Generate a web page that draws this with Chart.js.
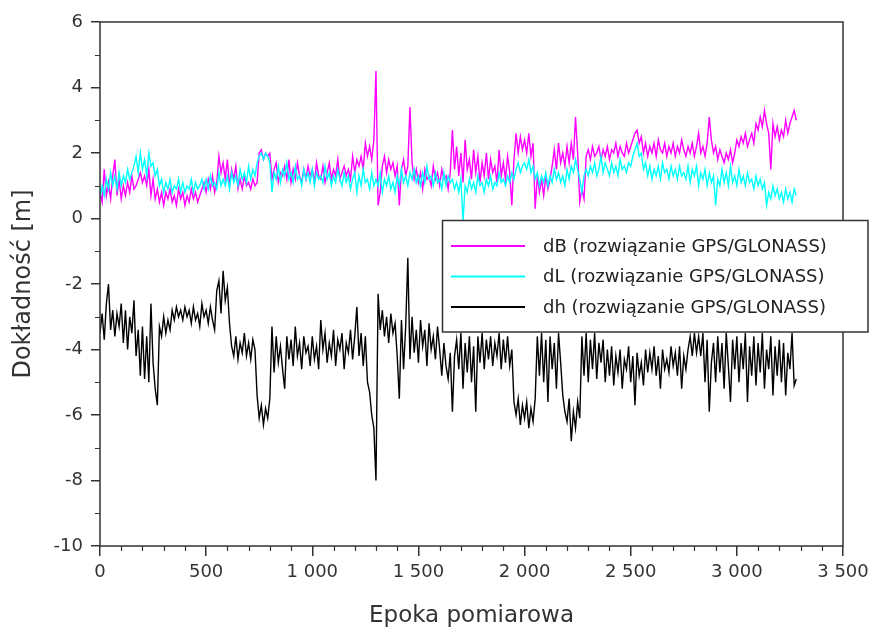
<!DOCTYPE html>
<html><head><meta charset="utf-8">
<script src="https://cdn.jsdelivr.net/npm/chart.js@4.4.1/dist/chart.umd.min.js"></script>
<style>html,body{margin:0;padding:0;background:#fff;}#wrap{width:870px;height:632px;}</style>
</head><body><div id="wrap"><canvas id="c" width="870" height="632"></canvas></div>
<script>
const epochStep = 10;
const seriesNames = ['dB (rozwiązanie GPS/GLONASS)', 'dL (rozwiązanie GPS/GLONASS)', 'dh (rozwiązanie GPS/GLONASS)'];
const seriesColors = ['#ff00ff', '#00ffff', '#000000'];
const xTickValues = [0, 500, 1000, 1500, 2000, 2500, 3000, 3500];
const yTickValues = [-10, -8, -6, -4, -2, 0, 2, 4, 6];
const dB = [0.8,0.5,1.5,0.7,1.1,0.6,1.3,1.8,0.7,1.2,
0.6,1.0,0.7,1.1,0.8,1.3,0.9,1.0,1.2,1.4,
1.1,1.3,1.0,1.5,0.7,1.2,0.6,0.9,0.5,0.8,
0.4,0.8,0.6,0.9,0.5,0.7,0.4,0.9,0.6,0.8,
0.4,0.7,0.5,0.9,0.6,0.8,0.5,0.7,0.9,1.1,
0.8,1.2,0.9,1.3,0.8,1.1,1.9,1.4,1.7,1.2,
1.8,1.0,1.5,1.2,1.6,0.9,1.2,0.9,1.3,1.0,
1.1,0.9,1.2,1.0,1.1,2.0,2.1,1.8,2.0,1.9,
2.0,1.2,1.5,1.7,1.1,1.4,1.3,1.6,1.2,1.8,
1.1,1.5,1.2,1.7,1.3,1.1,1.5,1.2,1.6,1.3,
1.5,1.1,1.7,1.3,1.2,1.6,1.1,1.4,1.7,1.2,
1.5,1.3,1.8,1.2,1.4,1.6,1.3,1.5,1.2,1.9,
1.4,1.8,1.6,1.9,1.5,2.3,1.9,2.2,1.8,2.4,
4.5,0.4,0.8,1.6,1.9,1.4,1.8,1.5,1.7,1.3,
1.6,0.4,1.5,1.8,1.3,1.6,3.4,1.7,1.2,1.5,
1.1,1.4,0.9,1.5,1.2,1.3,1.0,1.6,1.2,1.4,
1.0,1.5,1.2,1.3,0.9,1.4,2.7,1.5,2.2,1.3,
2.0,1.1,2.4,1.5,1.8,1.2,2.1,1.4,1.9,1.1,
1.7,1.3,2.0,1.2,1.8,1.4,1.6,1.1,2.1,1.3,
1.7,1.2,1.9,1.4,0.4,1.8,2.6,2.0,2.5,2.1,
2.4,2.0,2.6,1.9,2.3,0.3,1.3,0.8,1.2,0.7,
1.3,0.9,1.2,1.6,2.1,1.5,2.3,1.7,2.0,1.6,
2.2,1.7,2.3,1.8,3.1,2.0,0.5,0.9,0.6,1.9,
2.1,1.8,2.2,1.9,2.0,2.2,1.8,2.1,1.9,2.2,
1.8,2.1,2.0,2.3,1.9,2.2,2.0,1.9,2.3,2.0,
2.2,2.4,2.6,2.7,2.3,2.5,2.0,2.3,1.9,2.2,
2.0,2.3,1.9,2.4,2.1,2.0,2.3,1.9,2.2,2.0,
2.3,1.9,2.2,2.0,2.4,2.1,1.9,2.2,2.0,2.3,
1.9,2.2,2.6,2.0,2.2,1.9,2.3,3.1,2.4,2.0,
2.2,1.8,2.1,1.9,1.7,2.0,1.8,2.1,1.7,2.0,
2.4,2.2,2.5,2.3,2.6,2.2,2.4,2.6,2.3,2.9,
2.7,3.1,2.8,3.3,2.9,2.6,1.5,2.9,2.5,2.8,
2.4,2.7,2.5,3.0,2.6,2.9,3.1,3.3,3.0];
const dL = [0.6,1.0,0.7,1.2,0.9,1.4,1.0,1.3,0.9,1.4,
1.0,1.3,1.1,1.5,1.2,1.4,1.6,1.9,1.4,2.0,
1.5,1.8,1.3,2.0,1.6,1.7,1.3,1.5,1.0,1.2,
0.8,1.1,0.9,1.2,0.8,1.0,0.9,1.2,0.8,1.1,
0.8,1.0,0.9,1.2,0.8,1.1,0.9,1.0,1.2,0.9,
1.2,0.9,1.3,1.0,1.1,0.9,1.4,1.0,1.2,1.0,
1.3,0.9,1.4,1.1,1.3,1.0,1.5,1.2,1.4,1.1,
1.6,1.2,1.5,1.3,1.7,1.9,2.0,1.8,2.0,1.9,
1.7,0.8,1.4,1.2,1.6,1.1,1.5,1.3,1.7,1.2,
1.4,1.1,1.6,1.2,1.3,1.0,1.5,1.2,1.4,1.1,
1.5,1.0,1.4,1.2,1.3,1.1,1.6,1.2,1.4,1.0,
1.3,1.1,1.5,1.2,1.0,1.4,1.1,1.3,0.9,1.2,
1.4,0.8,1.3,1.0,1.5,1.1,1.2,0.9,1.4,1.0,
1.2,1.0,1.4,0.8,1.2,1.0,1.3,0.9,1.1,0.8,
1.3,1.0,1.5,1.1,1.3,1.0,1.4,1.2,1.5,1.1,
1.3,1.0,1.4,1.1,1.6,1.2,1.3,1.0,1.4,1.1,
1.2,0.9,1.4,1.0,1.3,1.1,1.2,0.9,1.1,0.8,
1.2,-0.1,1.0,0.8,1.2,0.9,1.1,0.8,1.3,1.0,
1.1,0.8,1.2,1.0,1.3,0.9,1.1,1.0,1.4,1.1,
1.2,1.0,1.3,1.1,1.4,1.2,1.5,1.7,1.4,1.6,
1.7,1.5,1.8,1.4,1.6,1.2,1.4,1.0,1.3,1.1,
1.4,1.0,1.3,1.1,1.5,1.2,1.4,1.1,1.3,1.0,
1.5,1.2,1.6,1.4,1.8,1.5,1.2,0.8,1.3,1.5,
1.3,1.6,1.4,1.7,1.3,1.5,1.9,1.4,1.7,1.5,
1.3,1.7,1.4,1.6,1.3,1.8,1.5,1.6,1.4,1.7,
1.6,1.9,2.1,2.3,1.9,2.0,1.5,1.7,1.3,1.6,
1.2,1.5,1.3,1.6,1.2,1.7,1.4,1.5,1.2,1.6,
1.3,1.5,1.2,1.6,1.3,1.4,1.2,1.6,1.1,1.5,
1.3,1.6,1.0,1.4,1.2,1.5,1.0,1.4,1.1,1.3,
0.4,1.2,1.0,1.5,1.1,1.4,1.0,1.6,1.1,1.3,
1.0,1.5,1.1,1.3,1.0,1.4,1.1,1.2,0.9,1.3,
1.0,1.2,0.9,1.1,0.4,0.8,0.6,1.0,0.7,0.9,
0.6,0.8,0.5,0.9,0.6,0.8,0.5,0.9,0.7];
const dh = [-3.5,-2.9,-3.7,-2.6,-2.0,-3.4,-2.8,-3.6,-2.9,-3.3,
-2.6,-3.8,-2.8,-4.0,-3.0,-3.5,-2.5,-4.2,-3.4,-4.8,
-3.3,-4.9,-3.6,-5.0,-2.6,-4.4,-5.2,-5.7,-3.3,-3.6,
-3.0,-3.5,-3.1,-3.4,-2.8,-3.1,-2.7,-3.0,-2.8,-3.1,
-2.7,-3.0,-2.8,-3.2,-2.7,-3.1,-2.9,-3.3,-2.6,-3.0,
-2.8,-3.2,-2.7,-3.1,-3.4,-2.2,-1.9,-2.9,-1.6,-2.5,
-2.1,-3.2,-3.9,-4.2,-3.6,-4.3,-3.8,-4.1,-3.5,-4.2,
-3.8,-4.3,-3.7,-4.0,-5.4,-6.1,-5.7,-6.3,-5.8,-6.1,
-5.5,-3.3,-4.7,-3.6,-4.4,-3.9,-4.6,-5.2,-3.6,-4.3,
-3.7,-4.5,-3.3,-4.2,-3.8,-4.6,-3.6,-4.1,-3.9,-4.5,
-3.6,-4.3,-3.9,-4.6,-3.1,-4.0,-3.5,-4.4,-3.8,-4.2,
-3.4,-4.5,-3.7,-4.0,-3.5,-4.6,-3.8,-4.1,-3.4,-4.3,
-3.6,-2.7,-4.2,-3.5,-4.5,-3.6,-5.0,-5.3,-6.0,-6.4,
-8.0,-2.3,-3.4,-2.8,-3.6,-3.0,-3.8,-2.9,-3.5,-3.2,
-4.2,-5.5,-3.1,-4.6,-3.3,-1.2,-4.3,-3.0,-4.1,-3.4,
-4.4,-3.1,-3.9,-3.4,-4.5,-3.2,-4.0,-3.6,-4.3,-3.3,
-4.0,-4.8,-3.8,-4.5,-4.9,-4.1,-5.9,-4.2,-3.7,-4.6,
-3.5,-5.2,-3.8,-4.7,-3.6,-5.0,-3.9,-5.9,-3.6,-4.4,
-3.5,-4.6,-3.7,-4.3,-3.6,-4.5,-3.8,-4.2,-3.5,-4.6,
-3.7,-4.4,-3.6,-4.5,-4.0,-5.6,-6.0,-5.5,-6.3,-5.7,
-6.1,-5.6,-6.4,-5.8,-6.2,-5.5,-3.6,-4.8,-3.5,-5.0,
-3.7,-5.6,-3.6,-4.6,-3.8,-5.2,-3.5,-4.4,-5.4,-5.9,
-6.2,-5.5,-6.8,-5.9,-6.4,-5.6,-6.1,-3.6,-4.8,-3.5,
-5.0,-3.7,-4.6,-3.5,-4.9,-3.8,-4.4,-3.7,-5.0,-4.0,
-4.8,-3.9,-5.1,-4.2,-4.7,-4.0,-5.2,-4.3,-4.6,-3.9,
-5.0,-4.2,-5.7,-4.1,-4.8,-4.4,-5.1,-4.0,-4.7,-4.1,
-4.6,-3.9,-4.8,-4.2,-5.2,-4.0,-4.6,-4.3,-4.7,-3.9,
-4.5,-4.1,-4.8,-3.9,-5.2,-4.2,-4.6,-4.0,-3.6,-4.2,
-3.5,-4.1,-3.6,-4.2,-3.5,-5.0,-3.7,-5.9,-4.4,-3.8,
-5.0,-3.6,-4.7,-3.8,-5.2,-3.5,-4.5,-5.6,-3.7,-4.6,
-3.6,-5.0,-3.8,-4.6,-3.5,-5.6,-3.9,-4.8,-3.6,-5.1,
-3.8,-4.7,-3.5,-5.2,-4.0,-4.6,-3.6,-5.4,-3.9,-4.8,
-3.7,-5.0,-3.8,-5.4,-4.1,-4.6,-3.5,-5.1,-4.9];

const seriesValues = [dB, dL, dh];
const toPoints = arr => arr.map((v, i) => ({x: i * epochStep, y: v}));
const AXIS_COLOR = '#333333';
const TICK_FONT = {family: 'DejaVu Sans', size: 18};
const TITLE_FONT = {family: 'DejaVu Sans', size: 23};

function fmtThousands(v) {
  const s = String(Math.round(v));
  return s.replace(/\B(?=(\d{3})+(?!\d))/g, ' ');
}

const decorPlugin = {
  id: 'decor',
  afterDraw(chart) {
    const {ctx, chartArea: a, scales: {x, y}} = chart;
    ctx.save();
    ctx.strokeStyle = AXIS_COLOR;
    ctx.lineWidth = 1.5;
    ctx.strokeRect(a.left, a.top, a.right - a.left, a.bottom - a.top);
    ctx.lineWidth = 1.2;
    ctx.beginPath();
    for (let v = x.min; v <= x.max; v += 100) {
      if (v % 500 === 0) continue;
      const px = Math.round(x.getPixelForValue(v)) + 0.5;
      ctx.moveTo(px, a.bottom); ctx.lineTo(px, a.bottom + 5);
    }
    for (let v = y.min; v <= y.max; v += 1) {
      if (v % 2 === 0) continue;
      const py = Math.round(y.getPixelForValue(v)) + 0.5;
      ctx.moveTo(a.left, py); ctx.lineTo(a.left - 5, py);
    }
    ctx.stroke();
    // legend box
    const bx = 442.5, by = 220.5, bw = 425.5, bh = 111.5;
    ctx.fillStyle = '#ffffff';
    ctx.fillRect(bx, by, bw, bh);
    ctx.lineWidth = 1.5;
    ctx.strokeStyle = AXIS_COLOR;
    ctx.strokeRect(bx, by, bw, bh);
    const rows = [246, 276.5, 307];
    ctx.font = '18px "DejaVu Sans"';
    ctx.textBaseline = 'middle';
    ctx.textAlign = 'left';
    chart.data.datasets.forEach((ds, i) => {
      ctx.strokeStyle = ds.borderColor;
      ctx.lineWidth = 2;
      ctx.beginPath();
      ctx.moveTo(451, rows[i]); ctx.lineTo(525, rows[i]);
      ctx.stroke();
      ctx.fillStyle = '#222';
      ctx.fillText(ds.label, 543, rows[i] + 1);
    });
    ctx.restore();
  }
};

new Chart(document.getElementById('c'), {
  type: 'line',
  data: {
    datasets: seriesValues.map((arr, i) => ({
      label: seriesNames[i],
      data: toPoints(arr),
      borderColor: seriesColors[i],
      backgroundColor: seriesColors[i],
      borderWidth: 1.4,
      pointRadius: 0,
      tension: 0,
      fill: false,
      order: [2, 1, 0][i]
    }))
  },
  options: {
    responsive: false,
    animation: false,
    devicePixelRatio: 1,
    layout: {padding: {top: 22, right: 27, left: 0, bottom: 0}},
    plugins: {legend: {display: false}, tooltip: {enabled: false}},
    scales: {
      x: {
        type: 'linear', min: 0, max: 3500,
        afterFit: s => { s.height = 86; s.paddingLeft = 0; s.paddingRight = 0; },
        afterBuildTicks: s => { s.ticks = xTickValues.map(v => ({value: v})); },
        ticks: {font: TICK_FONT, color: AXIS_COLOR, padding: 6, maxRotation: 0, callback: v => fmtThousands(v)},
        grid: {display: true, drawOnChartArea: false, drawTicks: true, tickLength: 10, color: AXIS_COLOR, lineWidth: 1.5},
        border: {display: false},
        title: {display: true, text: 'Epoka pomiarowa', font: TITLE_FONT, color: AXIS_COLOR, padding: {top: 0, bottom: 2}}
      },
      y: {
        type: 'linear', min: -10, max: 6,
        afterFit: s => { s.width = 100; s.paddingTop = 0; s.paddingBottom = 0; },
        afterBuildTicks: s => { s.ticks = yTickValues.map(v => ({value: v})); },
        ticks: {font: TICK_FONT, color: AXIS_COLOR, padding: 8, callback: v => String(v)},
        grid: {display: true, drawOnChartArea: false, drawTicks: true, tickLength: 9, color: AXIS_COLOR, lineWidth: 1.5},
        border: {display: false},
        title: {display: true, text: 'Dokładność [m]', font: {family: 'DejaVu Sans', size: 24}, color: AXIS_COLOR, padding: {top: 9, bottom: 0}}
      }
    }
  },
  plugins: [decorPlugin]
});
</script>
</body></html>
